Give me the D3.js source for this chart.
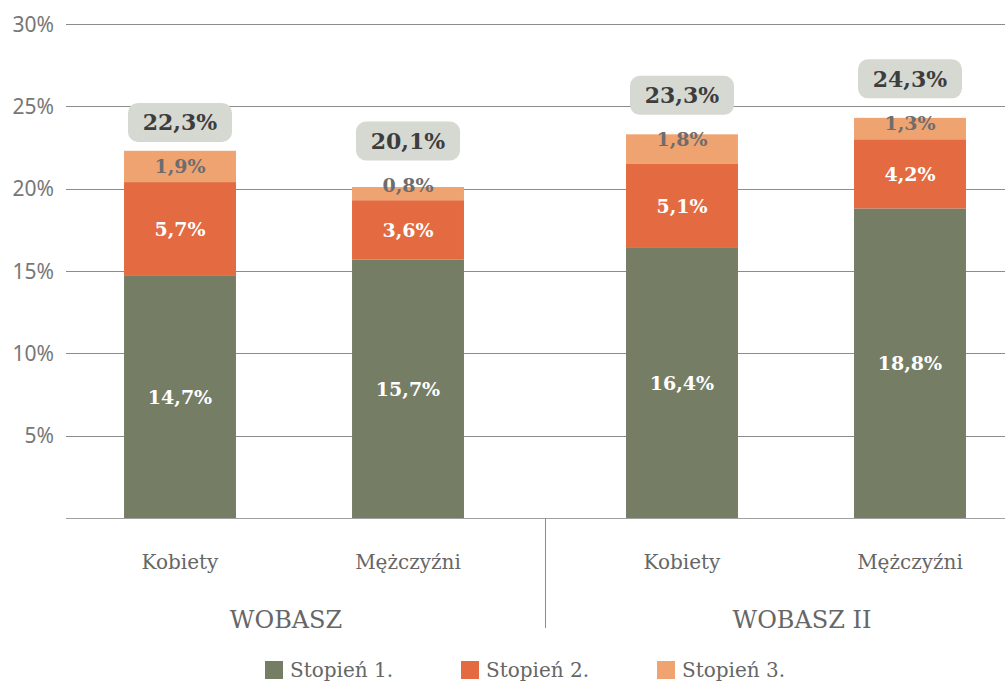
<!DOCTYPE html>
<html>
<head>
<meta charset="utf-8">
<script src="https://cdn.jsdelivr.net/npm/d3@7"></script>
<style>
  body { margin: 0; background: #fff; }
  svg { display: block; }
</style>
</head>
<body>
<div id="chart"></div>
<script>
const groups = ['WOBASZ', 'WOBASZ II'];
const categories = ['Kobiety', 'Mężczyźni'];
const seriesNames = ['Stopień 1.', 'Stopień 2.', 'Stopień 3.'];
// one row per bar: [group, category]
const bars = [
  ['WOBASZ', 'Kobiety'],
  ['WOBASZ', 'Mężczyźni'],
  ['WOBASZ II', 'Kobiety'],
  ['WOBASZ II', 'Mężczyźni']
];
const stage1 = [14.7, 15.7, 16.4, 18.8];
const stage2 = [5.7, 3.6, 5.1, 4.2];
const stage3 = [1.9, 0.8, 1.8, 1.3];
const totals = [22.3, 20.1, 23.3, 24.3];
const yTicks = [5, 10, 15, 20, 25, 30];

const width = 1005, height = 684;
const margin = { left: 66, top: 24, bottom: 166 };
const colors = ['#767d65', '#e36a41', '#efa371'];
const serif = "'DejaVu Serif', serif";
const sans = "'Noto Sans', 'Open Sans', sans-serif";
const gridCol = '#8c8c8c';

const fmt = v => v.toFixed(1).replace('.', ',') + '%';

const y = d3.scaleLinear()
  .domain([0, 30])
  .range([height - margin.bottom, margin.top]);

const xGroup = d3.scaleBand()
  .domain(groups)
  .range([margin.left, 1024])
  .paddingInner(0.0916);

const xCat = d3.scaleBand()
  .domain(categories)
  .range([0, xGroup.bandwidth()])
  .paddingInner(0.509)
  .paddingOuter(0.2545);

const svg = d3.select('#chart')
  .append('svg')
  .attr('width', width)
  .attr('height', height);

// grid
svg.append('g')
  .selectAll('line')
  .data(yTicks)
  .join('line')
  .attr('x1', margin.left)
  .attr('x2', width)
  .attr('y1', d => Math.round(y(d)) + 0.5)
  .attr('y2', d => Math.round(y(d)) + 0.5)
  .attr('stroke', gridCol)
  .attr('stroke-width', 1);

svg.append('g')
  .selectAll('text')
  .data(yTicks)
  .join('text')
  .attr('x', 54)
  .attr('y', d => y(d))
  .attr('dy', '0.36em')
  .attr('text-anchor', 'end')
  .style('font-family', sans)
  .style('font-size', '21px')
  .style('fill', '#777')
  .text(d => d + '%');

// stacked segments
const rows = bars.map((b, i) => {
  const vals = [stage1[i], stage2[i], stage3[i]];
  let acc = 0;
  const segs = vals.map((v, k) => {
    const s = { k, v, y0: acc, y1: acc + v };
    acc += v;
    return s;
  });
  return { group: b[0], cat: b[1], segs, total: totals[i] };
});

const barG = svg.append('g')
  .selectAll('g')
  .data(rows)
  .join('g')
  .attr('transform', d => `translate(${xGroup(d.group) + xCat(d.cat)},0)`);

const bw = xCat.bandwidth();

barG.selectAll('rect')
  .data(d => d.segs)
  .join('rect')
  .attr('x', 0)
  .attr('width', bw)
  .attr('y', s => y(s.y1))
  .attr('height', s => y(s.y0) - y(s.y1))
  .attr('fill', s => colors[s.k]);

function labelY(s) {
  const top = y(s.y1);
  const h = y(s.y0) - y(s.y1);
  if (s.k < 2 || h >= 31) return top + h / 2;
  if (h >= 18) return top + 5;
  return top - 2;
}

barG.selectAll('text.seg')
  .data(d => d.segs)
  .join('text')
  .attr('class', 'seg')
  .attr('x', bw / 2)
  .attr('y', s => labelY(s))
  .attr('dy', '0.36em')
  .attr('text-anchor', 'middle')
  .style('font-family', serif)
  .style('font-weight', 'bold')
  .style('font-size', '19px')
  .style('fill', s => s.k === 2 ? '#6d6d6d' : '#fff')
  .text(s => fmt(s.v));

// total boxes
const totG = barG.append('g')
  .attr('transform', d => `translate(${bw / 2},${labelY(d.segs[2]) - 44})`);

totG.append('rect')
  .attr('x', -52)
  .attr('y', -19.5)
  .attr('width', 104)
  .attr('height', 39)
  .attr('rx', 10)
  .attr('fill', '#d6d8d2');

totG.append('text')
  .attr('text-anchor', 'middle')
  .attr('dy', '0.36em')
  .style('font-family', serif)
  .style('font-weight', 'bold')
  .style('font-size', '22px')
  .style('fill', '#3d3d3d')
  .text(d => fmt(d.total));

// baseline and separator
svg.append('line')
  .attr('x1', margin.left)
  .attr('x2', width)
  .attr('y1', y(0) + 0.5)
  .attr('y2', y(0) + 0.5)
  .attr('stroke', '#a0a0a0');

const sepX = (xGroup(groups[0]) + xGroup.bandwidth() + xGroup(groups[1])) / 2;
svg.append('line')
  .attr('x1', Math.round(sepX) + 0.5)
  .attr('x2', Math.round(sepX) + 0.5)
  .attr('y1', y(0))
  .attr('y2', y(0) + 110)
  .attr('stroke', gridCol);

// category labels
svg.append('g')
  .selectAll('text')
  .data(rows)
  .join('text')
  .attr('x', d => xGroup(d.group) + xCat(d.cat) + bw / 2)
  .attr('y', y(0) + 44)
  .attr('dy', '0.36em')
  .attr('text-anchor', 'middle')
  .style('font-family', serif)
  .style('font-size', '20px')
  .style('fill', '#666')
  .text(d => d.cat);

// group labels, set symmetrically around the separator
svg.append('g')
  .selectAll('text')
  .data(groups)
  .join('text')
  .attr('x', (d, i) => sepX + (i === 0 ? -259 : 257))
  .attr('y', y(0) + 101)
  .attr('dy', '0.36em')
  .attr('text-anchor', 'middle')
  .style('font-family', serif)
  .style('font-size', '24px')
  .style('fill', '#666')
  .text(d => d);

// legend
const legend = svg.append('g')
  .selectAll('g')
  .data(seriesNames)
  .join('g')
  .attr('transform', (d, i) => `translate(${265 + i * 196},670)`);

legend.append('rect')
  .attr('x', 0)
  .attr('y', -9)
  .attr('width', 18)
  .attr('height', 18)
  .attr('fill', (d, i) => colors[i]);

legend.append('text')
  .attr('x', 25)
  .attr('dy', '0.36em')
  .style('font-family', serif)
  .style('font-size', '20px')
  .style('fill', '#666')
  .text(d => d);
</script>
</body>
</html>
